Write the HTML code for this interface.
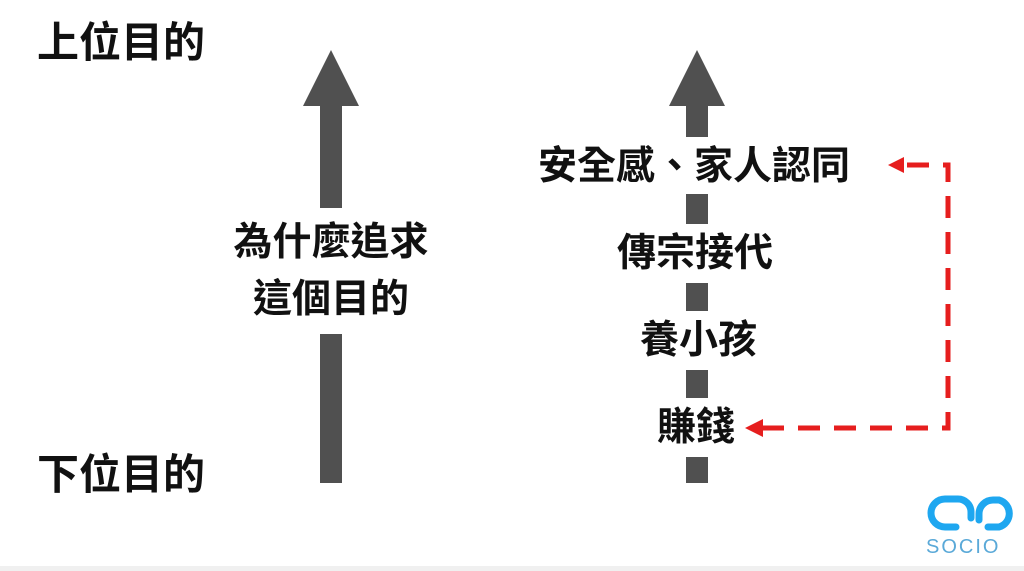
<!DOCTYPE html>
<html><head><meta charset="utf-8"><style>
body{margin:0;width:1024px;height:571px;background:#fff;position:relative;overflow:hidden;font-family:"Liberation Sans","Noto Sans CJK TC",sans-serif;}
.t{position:absolute;font-weight:bold;color:#111;white-space:nowrap;line-height:1;}
.w{background:#fff;padding:12px 0;}
</style></head><body>
<svg width="1024" height="571" style="position:absolute;left:0;top:0">
<polygon points="331,50 303,106 359,106" fill="#505050"/>
<rect x="320" y="106" width="22" height="377" fill="#505050"/>
<polygon points="697,50 669,106 725,106" fill="#505050"/>
<rect x="686" y="106" width="22" height="377" fill="#505050"/>
<g stroke="#e61e1e" stroke-width="5" fill="none" stroke-dasharray="22,14">
<path d="M907,165 H948 V428 H760"/>
</g>
<polygon points="888,165 904,157 904,173" fill="#e61e1e"/>
<polygon points="745,428 763,419 763,437" fill="#e61e1e"/>
<g fill="none" stroke="#1ea7f0" stroke-width="7" stroke-linecap="round">
<path d="M956,527 H945 A14,14 0 0 1 945,499 H958 A13,13 0 0 1 971,512 V518"/>
<path d="M979,520 V514 A14,14 0 0 1 993,500 H999 A14,14 0 0 1 999,527 H988"/>
</g>
<rect x="0" y="566" width="1024" height="5" fill="#f0f0f0"/>
</svg>
<div class="t" style="left:37px;top:22px;font-size:42px">上位目的</div>
<div class="t" style="left:37px;top:454px;font-size:42px">下位目的</div>
<div class="t w" style="left:226px;top:208px;font-size:39px;line-height:57px;text-align:center;width:210px;padding:6px 0">為什麼追求<br>這個目的</div>
<div class="t w" style="left:538px;top:137px;font-size:39px;padding:10px 0 8px">安全感、家人認同</div>
<div class="t w" style="left:617px;top:224px;font-size:39px;padding:10px 0">傳宗接代</div>
<div class="t w" style="left:640px;top:311px;font-size:39px;padding:10px 0">養小孩</div>
<div class="t w" style="left:657px;top:398px;font-size:39px;padding:10px 0">賺錢</div>
<div class="t" style="left:926px;top:537px;font-size:20px;font-weight:normal;color:#5aa9d8;letter-spacing:2px">SOCIO</div>
</body></html>
